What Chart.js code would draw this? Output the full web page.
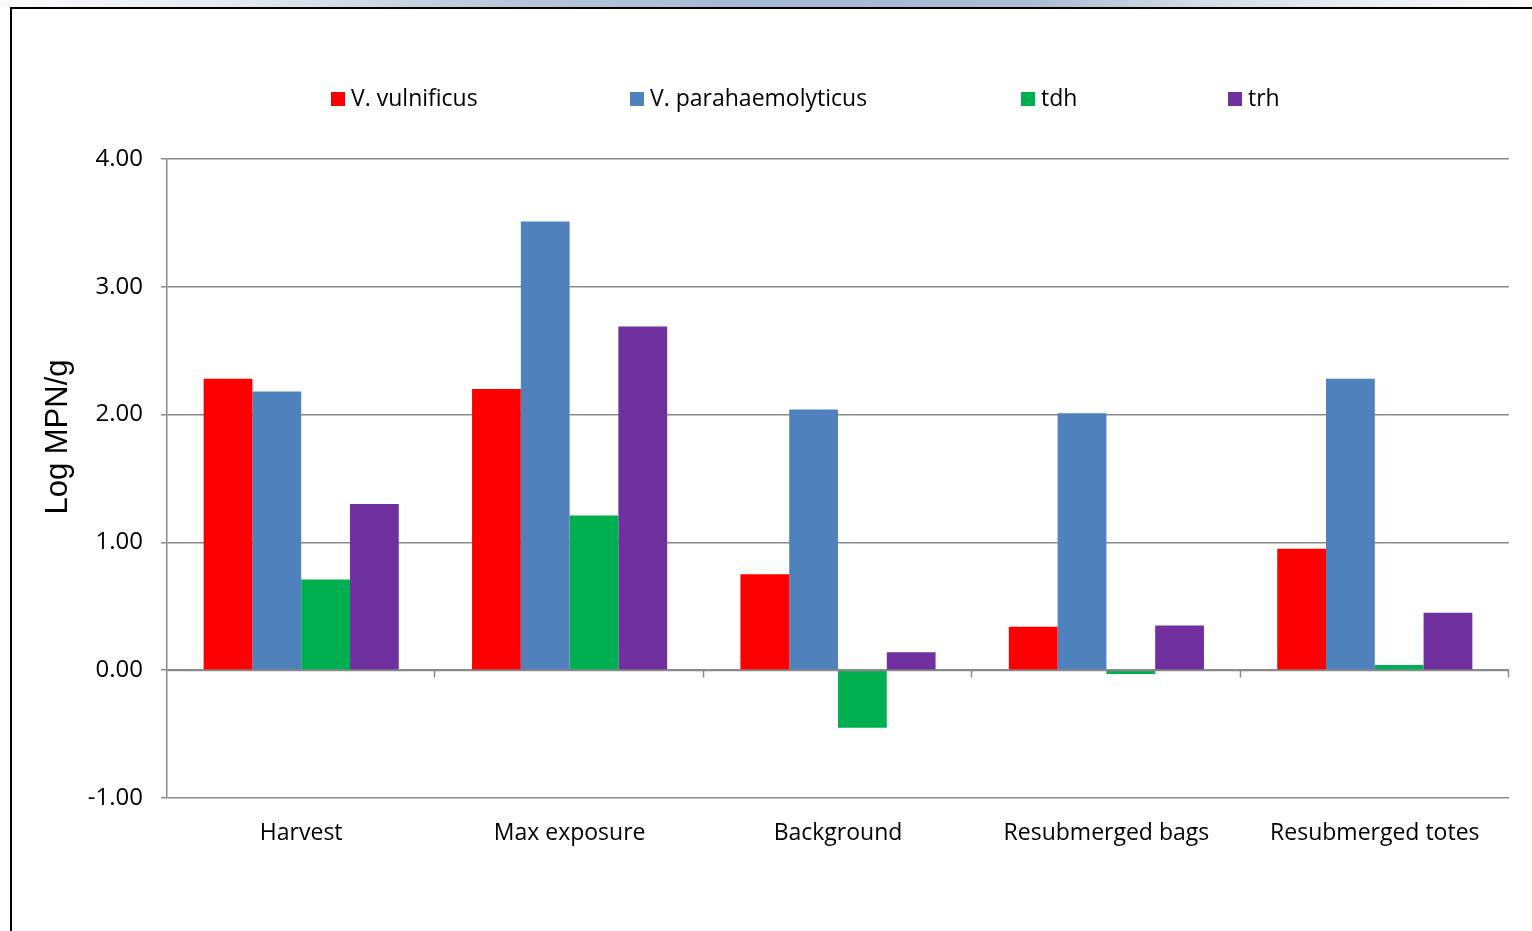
<!DOCTYPE html>
<html>
<head>
<meta charset="utf-8">
<style>
  html, body { margin: 0; padding: 0; background: #ffffff; }
  #wrap { position: relative; width: 1532px; height: 931px; }
  canvas { display: block; }
</style>
<script src="https://cdn.jsdelivr.net/npm/chart.js@4/dist/chart.umd.min.js"></script>
</head>
<body>
<div id="wrap"><canvas id="chart" width="1532" height="931"></canvas></div>
<script>
// Sampling stages
const categories = ['Harvest', 'Max exposure', 'Background', 'Resubmerged bags', 'Resubmerged totes'];

// Log MPN/g per stage
const vulnificus      = [2.28, 2.20, 0.75, 0.34, 0.95];
const parahaemolyticus = [2.18, 3.51, 2.04, 2.01, 2.28];
const tdh             = [0.71, 1.21, -0.45, -0.03, 0.04];
const trh             = [1.30, 2.69, 0.14, 0.35, 0.45];

const seriesNames  = ['V. vulnificus', 'V. parahaemolyticus', 'tdh', 'trh'];
const seriesColors = ['#FF0000', '#4F81BD', '#00B050', '#7030A0'];
const seriesData   = [vulnificus, parahaemolyticus, tdh, trh];

const yTicks = [-1, 0, 1, 2, 3, 4];
const yTitle = 'Log MPN/g';

const LABEL_FONT = '"Open Sans", "Noto Sans", sans-serif';

// Frame: shaded strip along the top, black border on the top and left
const framePlugin = {
  id: 'frame',
  beforeDraw(chart) {
    const ctx = chart.ctx;
    ctx.save();
    ctx.fillStyle = '#ffffff';
    ctx.fillRect(0, 0, chart.width, chart.height);
    const g = ctx.createLinearGradient(0, 0, chart.width, 0);
    g.addColorStop(0.00, '#fbfbfc');
    g.addColorStop(0.15, '#e4e9f0');
    g.addColorStop(0.33, '#b8c6d9');
    g.addColorStop(0.50, '#a6b9d2');
    g.addColorStop(0.68, '#adbdd3');
    g.addColorStop(0.78, '#d3dbe6');
    g.addColorStop(0.90, '#eceff3');
    g.addColorStop(1.00, '#fafafb');
    ctx.fillStyle = g;
    ctx.fillRect(0, 0, chart.width, 7);
    ctx.fillStyle = '#000000';
    ctx.fillRect(10, 7, chart.width - 10, 2);
    ctx.fillRect(10, 7, 2, chart.height - 7);
    ctx.restore();
  }
};

// Category axis drawn along the zero line, with tick marks between categories
const zeroAxisPlugin = {
  id: 'zeroAxis',
  afterDatasetsDraw(chart) {
    const { ctx, chartArea, scales } = chart;
    const y0 = Math.round(scales.y.getPixelForValue(0)) + 0.5;
    const n = categories.length;
    const step = (chartArea.right - chartArea.left) / n;
    ctx.save();
    ctx.strokeStyle = '#8a8a8a';
    ctx.lineWidth = 1.5;
    ctx.beginPath();
    ctx.moveTo(chartArea.left, y0);
    ctx.lineTo(chartArea.right, y0);
    for (let i = 1; i <= n; i++) {
      const x = Math.round(chartArea.left + step * i) - 0.5;
      ctx.moveTo(x, y0);
      ctx.lineTo(x, y0 + 7);
    }
    ctx.stroke();
    ctx.restore();
  }
};

// Legend across the top and the rotated value-axis title
const labelsPlugin = {
  id: 'labels',
  afterDraw(chart) {
    const ctx = chart.ctx;
    ctx.save();
    const legendX = [331, 630, 1021, 1228];
    const legendY = 99;
    ctx.font = '23px ' + LABEL_FONT;
    ctx.textBaseline = 'middle';
    ctx.textAlign = 'left';
    chart.data.datasets.forEach((ds, i) => {
      ctx.fillStyle = ds.backgroundColor;
      ctx.fillRect(legendX[i], legendY - 7, 14, 14);
      ctx.fillStyle = '#000000';
      ctx.fillText(ds.label, legendX[i] + 20, legendY);
    });
    ctx.translate(58, 437);
    ctx.rotate(-Math.PI / 2);
    ctx.font = '31px "Liberation Sans", Arial, sans-serif';
    ctx.textAlign = 'center';
    ctx.textBaseline = 'middle';
    ctx.fillStyle = '#000000';
    ctx.fillText(yTitle, 0, 0);
    ctx.restore();
  }
};

new Chart(document.getElementById('chart'), {
  type: 'bar',
  data: {
    labels: categories,
    datasets: seriesData.map((d, i) => ({
      label: seriesNames[i],
      data: d,
      backgroundColor: seriesColors[i],
      borderWidth: 0,
      categoryPercentage: 0.727,
      barPercentage: 1.0
    }))
  },
  options: {
    responsive: false,
    animation: false,
    devicePixelRatio: 1,
    layout: { padding: { top: 159, right: 23, bottom: 0, left: 0 } },
    plugins: {
      legend: { display: false },
      tooltip: { enabled: false },
      title: { display: false }
    },
    scales: {
      x: {
        grid: { display: false, drawTicks: false },
        border: { display: false },
        ticks: {
          color: '#000000',
          font: { family: LABEL_FONT, size: 23 },
          padding: 22,
          maxRotation: 0,
          autoSkip: false
        },
        afterFit(scale) { scale.height = 133; }
      },
      y: {
        min: -1,
        max: 4,
        afterBuildTicks(scale) { scale.ticks = yTicks.map(v => ({ value: v })); },
        grid: {
          color: '#8a8a8a',
          lineWidth: 1.5,
          drawTicks: true,
          tickLength: 6
        },
        border: { display: true, color: '#8a8a8a', width: 1.5 },
        ticks: {
          color: '#000000',
          font: { family: LABEL_FONT, size: 24 },
          padding: 18,
          callback: v => Number(v).toFixed(2)
        },
        afterFit(scale) { scale.width = 167; }
      }
    }
  },
  plugins: [framePlugin, zeroAxisPlugin, labelsPlugin]
});
</script>
</body>
</html>
